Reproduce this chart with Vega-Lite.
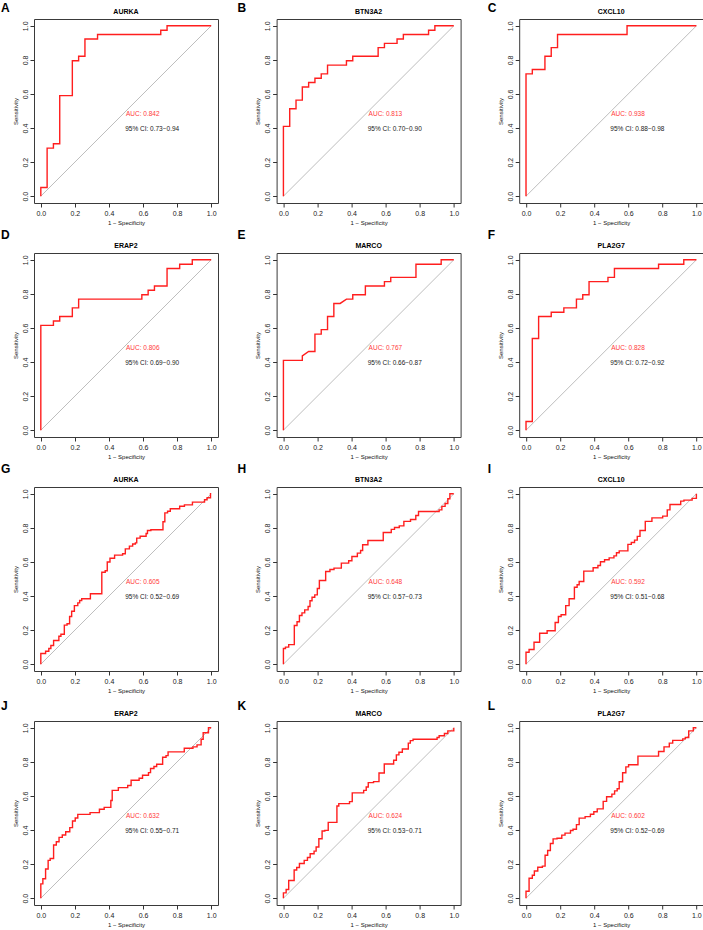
{
"$schema": "https://vega.github.io/schema/vega-lite/v6.json",
"padding": {"top": 1, "left": 0, "right": 0, "bottom": 0},
"background": "white",
"data": {"values": [
{"p":"A","x":0,"y":0},{"p":"A","x":0,"y":0.051},{"p":"A","x":0.037,"y":0.051},{"p":"A","x":0.037,"y":0.282},{"p":"A","x":0.074,"y":0.282},{"p":"A","x":0.074,"y":0.308},{"p":"A","x":0.111,"y":0.308},{"p":"A","x":0.111,"y":0.59},{"p":"A","x":0.185,"y":0.59},{"p":"A","x":0.185,"y":0.795},{"p":"A","x":0.222,"y":0.795},{"p":"A","x":0.222,"y":0.821},{"p":"A","x":0.259,"y":0.821},{"p":"A","x":0.259,"y":0.923},{"p":"A","x":0.333,"y":0.923},{"p":"A","x":0.333,"y":0.949},{"p":"A","x":0.704,"y":0.949},{"p":"A","x":0.704,"y":0.974},{"p":"A","x":0.741,"y":0.974},{"p":"A","x":0.741,"y":1},{"p":"A","x":1,"y":1},
{"p":"B","x":0,"y":0},{"p":"B","x":0,"y":0.41},{"p":"B","x":0.037,"y":0.41},{"p":"B","x":0.037,"y":0.513},{"p":"B","x":0.074,"y":0.513},{"p":"B","x":0.074,"y":0.564},{"p":"B","x":0.111,"y":0.564},{"p":"B","x":0.111,"y":0.641},{"p":"B","x":0.148,"y":0.641},{"p":"B","x":0.148,"y":0.667},{"p":"B","x":0.185,"y":0.667},{"p":"B","x":0.185,"y":0.692},{"p":"B","x":0.222,"y":0.692},{"p":"B","x":0.222,"y":0.718},{"p":"B","x":0.259,"y":0.718},{"p":"B","x":0.259,"y":0.769},{"p":"B","x":0.37,"y":0.769},{"p":"B","x":0.37,"y":0.795},{"p":"B","x":0.407,"y":0.795},{"p":"B","x":0.407,"y":0.821},{"p":"B","x":0.556,"y":0.821},{"p":"B","x":0.556,"y":0.872},{"p":"B","x":0.593,"y":0.872},{"p":"B","x":0.593,"y":0.897},{"p":"B","x":0.667,"y":0.897},{"p":"B","x":0.667,"y":0.923},{"p":"B","x":0.704,"y":0.923},{"p":"B","x":0.704,"y":0.949},{"p":"B","x":0.852,"y":0.949},{"p":"B","x":0.852,"y":0.974},{"p":"B","x":0.889,"y":0.974},{"p":"B","x":0.889,"y":1},{"p":"B","x":1,"y":1},
{"p":"C","x":0,"y":0},{"p":"C","x":0,"y":0.718},{"p":"C","x":0.037,"y":0.718},{"p":"C","x":0.037,"y":0.744},{"p":"C","x":0.111,"y":0.744},{"p":"C","x":0.111,"y":0.821},{"p":"C","x":0.148,"y":0.821},{"p":"C","x":0.148,"y":0.872},{"p":"C","x":0.185,"y":0.872},{"p":"C","x":0.185,"y":0.949},{"p":"C","x":0.593,"y":0.949},{"p":"C","x":0.593,"y":1},{"p":"C","x":1,"y":1},
{"p":"D","x":0,"y":0},{"p":"D","x":0,"y":0.615},{"p":"D","x":0.074,"y":0.615},{"p":"D","x":0.074,"y":0.641},{"p":"D","x":0.111,"y":0.641},{"p":"D","x":0.111,"y":0.667},{"p":"D","x":0.185,"y":0.667},{"p":"D","x":0.185,"y":0.718},{"p":"D","x":0.222,"y":0.718},{"p":"D","x":0.222,"y":0.769},{"p":"D","x":0.593,"y":0.769},{"p":"D","x":0.593,"y":0.795},{"p":"D","x":0.63,"y":0.795},{"p":"D","x":0.63,"y":0.821},{"p":"D","x":0.667,"y":0.821},{"p":"D","x":0.667,"y":0.846},{"p":"D","x":0.741,"y":0.846},{"p":"D","x":0.741,"y":0.949},{"p":"D","x":0.815,"y":0.949},{"p":"D","x":0.815,"y":0.974},{"p":"D","x":0.889,"y":0.974},{"p":"D","x":0.889,"y":1},{"p":"D","x":1,"y":1},
{"p":"E","x":0,"y":0},{"p":"E","x":0,"y":0.41},{"p":"E","x":0.111,"y":0.41},{"p":"E","x":0.111,"y":0.436},{"p":"E","x":0.148,"y":0.462},{"p":"E","x":0.185,"y":0.462},{"p":"E","x":0.185,"y":0.564},{"p":"E","x":0.222,"y":0.564},{"p":"E","x":0.222,"y":0.59},{"p":"E","x":0.259,"y":0.59},{"p":"E","x":0.259,"y":0.667},{"p":"E","x":0.296,"y":0.667},{"p":"E","x":0.296,"y":0.744},{"p":"E","x":0.333,"y":0.744},{"p":"E","x":0.37,"y":0.769},{"p":"E","x":0.407,"y":0.769},{"p":"E","x":0.407,"y":0.795},{"p":"E","x":0.481,"y":0.795},{"p":"E","x":0.481,"y":0.846},{"p":"E","x":0.593,"y":0.846},{"p":"E","x":0.593,"y":0.872},{"p":"E","x":0.63,"y":0.872},{"p":"E","x":0.63,"y":0.897},{"p":"E","x":0.778,"y":0.897},{"p":"E","x":0.778,"y":0.974},{"p":"E","x":0.926,"y":0.974},{"p":"E","x":0.926,"y":1},{"p":"E","x":1,"y":1},
{"p":"F","x":0,"y":0},{"p":"F","x":0,"y":0.051},{"p":"F","x":0.037,"y":0.051},{"p":"F","x":0.037,"y":0.538},{"p":"F","x":0.074,"y":0.538},{"p":"F","x":0.074,"y":0.667},{"p":"F","x":0.148,"y":0.667},{"p":"F","x":0.148,"y":0.692},{"p":"F","x":0.222,"y":0.692},{"p":"F","x":0.222,"y":0.718},{"p":"F","x":0.296,"y":0.718},{"p":"F","x":0.296,"y":0.769},{"p":"F","x":0.333,"y":0.769},{"p":"F","x":0.333,"y":0.795},{"p":"F","x":0.37,"y":0.795},{"p":"F","x":0.37,"y":0.872},{"p":"F","x":0.481,"y":0.872},{"p":"F","x":0.481,"y":0.897},{"p":"F","x":0.519,"y":0.897},{"p":"F","x":0.519,"y":0.949},{"p":"F","x":0.778,"y":0.949},{"p":"F","x":0.778,"y":0.974},{"p":"F","x":0.926,"y":0.974},{"p":"F","x":0.926,"y":1},{"p":"F","x":1,"y":1},
{"p":"G","x":0,"y":0},{"p":"G","x":0,"y":0.063},{"p":"G","x":0.028,"y":0.063},{"p":"G","x":0.028,"y":0.076},{"p":"G","x":0.047,"y":0.076},{"p":"G","x":0.047,"y":0.092},{"p":"G","x":0.059,"y":0.092},{"p":"G","x":0.059,"y":0.11},{"p":"G","x":0.075,"y":0.11},{"p":"G","x":0.075,"y":0.139},{"p":"G","x":0.106,"y":0.139},{"p":"G","x":0.106,"y":0.164},{"p":"G","x":0.118,"y":0.164},{"p":"G","x":0.118,"y":0.176},{"p":"G","x":0.138,"y":0.176},{"p":"G","x":0.138,"y":0.229},{"p":"G","x":0.154,"y":0.229},{"p":"G","x":0.154,"y":0.237},{"p":"G","x":0.169,"y":0.237},{"p":"G","x":0.169,"y":0.28},{"p":"G","x":0.181,"y":0.28},{"p":"G","x":0.181,"y":0.311},{"p":"G","x":0.197,"y":0.311},{"p":"G","x":0.197,"y":0.344},{"p":"G","x":0.217,"y":0.344},{"p":"G","x":0.217,"y":0.36},{"p":"G","x":0.228,"y":0.36},{"p":"G","x":0.228,"y":0.374},{"p":"G","x":0.24,"y":0.374},{"p":"G","x":0.24,"y":0.384},{"p":"G","x":0.291,"y":0.384},{"p":"G","x":0.291,"y":0.413},{"p":"G","x":0.358,"y":0.413},{"p":"G","x":0.358,"y":0.54},{"p":"G","x":0.378,"y":0.54},{"p":"G","x":0.378,"y":0.548},{"p":"G","x":0.39,"y":0.548},{"p":"G","x":0.39,"y":0.6},{"p":"G","x":0.406,"y":0.6},{"p":"G","x":0.406,"y":0.622},{"p":"G","x":0.433,"y":0.622},{"p":"G","x":0.433,"y":0.64},{"p":"G","x":0.48,"y":0.64},{"p":"G","x":0.48,"y":0.648},{"p":"G","x":0.496,"y":0.648},{"p":"G","x":0.496,"y":0.677},{"p":"G","x":0.52,"y":0.677},{"p":"G","x":0.52,"y":0.693},{"p":"G","x":0.539,"y":0.693},{"p":"G","x":0.539,"y":0.705},{"p":"G","x":0.555,"y":0.705},{"p":"G","x":0.555,"y":0.712},{"p":"G","x":0.563,"y":0.712},{"p":"G","x":0.563,"y":0.74},{"p":"G","x":0.583,"y":0.74},{"p":"G","x":0.583,"y":0.751},{"p":"G","x":0.618,"y":0.751},{"p":"G","x":0.618,"y":0.767},{"p":"G","x":0.626,"y":0.767},{"p":"G","x":0.626,"y":0.785},{"p":"G","x":0.646,"y":0.785},{"p":"G","x":0.646,"y":0.789},{"p":"G","x":0.717,"y":0.789},{"p":"G","x":0.717,"y":0.836},{"p":"G","x":0.728,"y":0.836},{"p":"G","x":0.728,"y":0.888},{"p":"G","x":0.744,"y":0.888},{"p":"G","x":0.744,"y":0.898},{"p":"G","x":0.76,"y":0.898},{"p":"G","x":0.76,"y":0.912},{"p":"G","x":0.815,"y":0.912},{"p":"G","x":0.815,"y":0.927},{"p":"G","x":0.843,"y":0.927},{"p":"G","x":0.843,"y":0.935},{"p":"G","x":0.89,"y":0.935},{"p":"G","x":0.89,"y":0.951},{"p":"G","x":0.961,"y":0.951},{"p":"G","x":0.961,"y":0.965},{"p":"G","x":0.976,"y":0.965},{"p":"G","x":0.976,"y":0.977},{"p":"G","x":0.996,"y":0.977},{"p":"G","x":0.996,"y":1},{"p":"G","x":1,"y":1},
{"p":"H","x":0,"y":0},{"p":"H","x":0,"y":0.092},{"p":"H","x":0.012,"y":0.092},{"p":"H","x":0.012,"y":0.1},{"p":"H","x":0.031,"y":0.1},{"p":"H","x":0.031,"y":0.115},{"p":"H","x":0.064,"y":0.115},{"p":"H","x":0.064,"y":0.227},{"p":"H","x":0.08,"y":0.227},{"p":"H","x":0.08,"y":0.249},{"p":"H","x":0.094,"y":0.249},{"p":"H","x":0.094,"y":0.286},{"p":"H","x":0.109,"y":0.286},{"p":"H","x":0.109,"y":0.301},{"p":"H","x":0.125,"y":0.301},{"p":"H","x":0.125,"y":0.319},{"p":"H","x":0.145,"y":0.319},{"p":"H","x":0.145,"y":0.339},{"p":"H","x":0.156,"y":0.339},{"p":"H","x":0.156,"y":0.372},{"p":"H","x":0.168,"y":0.372},{"p":"H","x":0.168,"y":0.393},{"p":"H","x":0.184,"y":0.393},{"p":"H","x":0.184,"y":0.407},{"p":"H","x":0.199,"y":0.407},{"p":"H","x":0.199,"y":0.444},{"p":"H","x":0.211,"y":0.444},{"p":"H","x":0.211,"y":0.491},{"p":"H","x":0.248,"y":0.491},{"p":"H","x":0.248,"y":0.544},{"p":"H","x":0.273,"y":0.544},{"p":"H","x":0.273,"y":0.556},{"p":"H","x":0.297,"y":0.556},{"p":"H","x":0.297,"y":0.564},{"p":"H","x":0.34,"y":0.564},{"p":"H","x":0.34,"y":0.593},{"p":"H","x":0.383,"y":0.593},{"p":"H","x":0.383,"y":0.607},{"p":"H","x":0.402,"y":0.607},{"p":"H","x":0.402,"y":0.632},{"p":"H","x":0.434,"y":0.632},{"p":"H","x":0.434,"y":0.652},{"p":"H","x":0.453,"y":0.652},{"p":"H","x":0.453,"y":0.667},{"p":"H","x":0.465,"y":0.667},{"p":"H","x":0.465,"y":0.701},{"p":"H","x":0.496,"y":0.701},{"p":"H","x":0.496,"y":0.726},{"p":"H","x":0.586,"y":0.726},{"p":"H","x":0.586,"y":0.773},{"p":"H","x":0.633,"y":0.773},{"p":"H","x":0.633,"y":0.791},{"p":"H","x":0.652,"y":0.791},{"p":"H","x":0.652,"y":0.802},{"p":"H","x":0.68,"y":0.802},{"p":"H","x":0.68,"y":0.812},{"p":"H","x":0.707,"y":0.812},{"p":"H","x":0.707,"y":0.838},{"p":"H","x":0.746,"y":0.838},{"p":"H","x":0.746,"y":0.849},{"p":"H","x":0.777,"y":0.849},{"p":"H","x":0.777,"y":0.873},{"p":"H","x":0.793,"y":0.873},{"p":"H","x":0.793,"y":0.896},{"p":"H","x":0.914,"y":0.896},{"p":"H","x":0.914,"y":0.906},{"p":"H","x":0.93,"y":0.906},{"p":"H","x":0.93,"y":0.926},{"p":"H","x":0.949,"y":0.926},{"p":"H","x":0.949,"y":0.943},{"p":"H","x":0.965,"y":0.943},{"p":"H","x":0.965,"y":0.971},{"p":"H","x":0.977,"y":0.971},{"p":"H","x":0.977,"y":1},{"p":"H","x":1,"y":1},
{"p":"I","x":0,"y":0},{"p":"I","x":0,"y":0.07},{"p":"I","x":0.018,"y":0.07},{"p":"I","x":0.018,"y":0.086},{"p":"I","x":0.047,"y":0.086},{"p":"I","x":0.047,"y":0.129},{"p":"I","x":0.08,"y":0.129},{"p":"I","x":0.08,"y":0.182},{"p":"I","x":0.124,"y":0.182},{"p":"I","x":0.124,"y":0.196},{"p":"I","x":0.171,"y":0.196},{"p":"I","x":0.171,"y":0.245},{"p":"I","x":0.19,"y":0.245},{"p":"I","x":0.19,"y":0.28},{"p":"I","x":0.206,"y":0.28},{"p":"I","x":0.206,"y":0.29},{"p":"I","x":0.233,"y":0.29},{"p":"I","x":0.233,"y":0.344},{"p":"I","x":0.253,"y":0.344},{"p":"I","x":0.253,"y":0.384},{"p":"I","x":0.284,"y":0.384},{"p":"I","x":0.284,"y":0.452},{"p":"I","x":0.3,"y":0.452},{"p":"I","x":0.3,"y":0.466},{"p":"I","x":0.312,"y":0.466},{"p":"I","x":0.312,"y":0.485},{"p":"I","x":0.339,"y":0.485},{"p":"I","x":0.339,"y":0.546},{"p":"I","x":0.394,"y":0.546},{"p":"I","x":0.394,"y":0.566},{"p":"I","x":0.422,"y":0.566},{"p":"I","x":0.422,"y":0.579},{"p":"I","x":0.437,"y":0.579},{"p":"I","x":0.437,"y":0.601},{"p":"I","x":0.461,"y":0.601},{"p":"I","x":0.461,"y":0.613},{"p":"I","x":0.488,"y":0.613},{"p":"I","x":0.488,"y":0.624},{"p":"I","x":0.516,"y":0.624},{"p":"I","x":0.516,"y":0.636},{"p":"I","x":0.531,"y":0.636},{"p":"I","x":0.531,"y":0.654},{"p":"I","x":0.547,"y":0.654},{"p":"I","x":0.547,"y":0.665},{"p":"I","x":0.598,"y":0.665},{"p":"I","x":0.598,"y":0.703},{"p":"I","x":0.618,"y":0.703},{"p":"I","x":0.618,"y":0.714},{"p":"I","x":0.637,"y":0.714},{"p":"I","x":0.637,"y":0.728},{"p":"I","x":0.653,"y":0.728},{"p":"I","x":0.653,"y":0.75},{"p":"I","x":0.669,"y":0.75},{"p":"I","x":0.669,"y":0.785},{"p":"I","x":0.7,"y":0.785},{"p":"I","x":0.7,"y":0.838},{"p":"I","x":0.739,"y":0.838},{"p":"I","x":0.739,"y":0.859},{"p":"I","x":0.802,"y":0.859},{"p":"I","x":0.802,"y":0.869},{"p":"I","x":0.829,"y":0.869},{"p":"I","x":0.829,"y":0.906},{"p":"I","x":0.845,"y":0.906},{"p":"I","x":0.845,"y":0.937},{"p":"I","x":0.908,"y":0.937},{"p":"I","x":0.908,"y":0.957},{"p":"I","x":0.927,"y":0.957},{"p":"I","x":0.927,"y":0.963},{"p":"I","x":0.975,"y":0.963},{"p":"I","x":0.975,"y":0.973},{"p":"I","x":1,"y":0.973},{"p":"I","x":1,"y":1},
{"p":"J","x":0,"y":0},{"p":"J","x":0,"y":0.084},{"p":"J","x":0.012,"y":0.084},{"p":"J","x":0.012,"y":0.114},{"p":"J","x":0.028,"y":0.114},{"p":"J","x":0.028,"y":0.171},{"p":"J","x":0.043,"y":0.171},{"p":"J","x":0.043,"y":0.222},{"p":"J","x":0.055,"y":0.222},{"p":"J","x":0.055,"y":0.233},{"p":"J","x":0.075,"y":0.233},{"p":"J","x":0.075,"y":0.312},{"p":"J","x":0.091,"y":0.312},{"p":"J","x":0.091,"y":0.331},{"p":"J","x":0.107,"y":0.331},{"p":"J","x":0.107,"y":0.357},{"p":"J","x":0.126,"y":0.357},{"p":"J","x":0.126,"y":0.371},{"p":"J","x":0.146,"y":0.371},{"p":"J","x":0.146,"y":0.39},{"p":"J","x":0.17,"y":0.39},{"p":"J","x":0.17,"y":0.414},{"p":"J","x":0.186,"y":0.414},{"p":"J","x":0.186,"y":0.453},{"p":"J","x":0.202,"y":0.453},{"p":"J","x":0.202,"y":0.471},{"p":"J","x":0.217,"y":0.471},{"p":"J","x":0.217,"y":0.492},{"p":"J","x":0.289,"y":0.492},{"p":"J","x":0.289,"y":0.502},{"p":"J","x":0.344,"y":0.502},{"p":"J","x":0.344,"y":0.522},{"p":"J","x":0.372,"y":0.522},{"p":"J","x":0.372,"y":0.533},{"p":"J","x":0.411,"y":0.533},{"p":"J","x":0.411,"y":0.573},{"p":"J","x":0.419,"y":0.573},{"p":"J","x":0.419,"y":0.633},{"p":"J","x":0.455,"y":0.633},{"p":"J","x":0.455,"y":0.649},{"p":"J","x":0.51,"y":0.649},{"p":"J","x":0.51,"y":0.661},{"p":"J","x":0.53,"y":0.661},{"p":"J","x":0.53,"y":0.692},{"p":"J","x":0.577,"y":0.692},{"p":"J","x":0.577,"y":0.704},{"p":"J","x":0.597,"y":0.704},{"p":"J","x":0.597,"y":0.722},{"p":"J","x":0.632,"y":0.722},{"p":"J","x":0.632,"y":0.737},{"p":"J","x":0.644,"y":0.737},{"p":"J","x":0.644,"y":0.761},{"p":"J","x":0.664,"y":0.761},{"p":"J","x":0.664,"y":0.773},{"p":"J","x":0.68,"y":0.773},{"p":"J","x":0.68,"y":0.786},{"p":"J","x":0.715,"y":0.786},{"p":"J","x":0.715,"y":0.827},{"p":"J","x":0.735,"y":0.827},{"p":"J","x":0.735,"y":0.837},{"p":"J","x":0.747,"y":0.837},{"p":"J","x":0.747,"y":0.859},{"p":"J","x":0.842,"y":0.859},{"p":"J","x":0.842,"y":0.88},{"p":"J","x":0.893,"y":0.88},{"p":"J","x":0.893,"y":0.888},{"p":"J","x":0.917,"y":0.888},{"p":"J","x":0.917,"y":0.9},{"p":"J","x":0.941,"y":0.9},{"p":"J","x":0.941,"y":0.933},{"p":"J","x":0.953,"y":0.933},{"p":"J","x":0.953,"y":0.971},{"p":"J","x":0.984,"y":0.971},{"p":"J","x":0.984,"y":1},{"p":"J","x":1,"y":1},
{"p":"K","x":0,"y":0},{"p":"K","x":0,"y":0.031},{"p":"K","x":0.016,"y":0.031},{"p":"K","x":0.016,"y":0.051},{"p":"K","x":0.031,"y":0.051},{"p":"K","x":0.031,"y":0.104},{"p":"K","x":0.063,"y":0.104},{"p":"K","x":0.063,"y":0.165},{"p":"K","x":0.078,"y":0.165},{"p":"K","x":0.078,"y":0.18},{"p":"K","x":0.094,"y":0.18},{"p":"K","x":0.094,"y":0.204},{"p":"K","x":0.122,"y":0.204},{"p":"K","x":0.122,"y":0.222},{"p":"K","x":0.141,"y":0.222},{"p":"K","x":0.141,"y":0.239},{"p":"K","x":0.157,"y":0.239},{"p":"K","x":0.157,"y":0.261},{"p":"K","x":0.18,"y":0.261},{"p":"K","x":0.18,"y":0.276},{"p":"K","x":0.192,"y":0.276},{"p":"K","x":0.192,"y":0.3},{"p":"K","x":0.208,"y":0.3},{"p":"K","x":0.208,"y":0.349},{"p":"K","x":0.227,"y":0.349},{"p":"K","x":0.227,"y":0.394},{"p":"K","x":0.243,"y":0.394},{"p":"K","x":0.243,"y":0.398},{"p":"K","x":0.263,"y":0.398},{"p":"K","x":0.263,"y":0.445},{"p":"K","x":0.314,"y":0.445},{"p":"K","x":0.314,"y":0.541},{"p":"K","x":0.325,"y":0.541},{"p":"K","x":0.325,"y":0.555},{"p":"K","x":0.388,"y":0.555},{"p":"K","x":0.388,"y":0.567},{"p":"K","x":0.404,"y":0.567},{"p":"K","x":0.404,"y":0.618},{"p":"K","x":0.471,"y":0.618},{"p":"K","x":0.471,"y":0.633},{"p":"K","x":0.486,"y":0.633},{"p":"K","x":0.486,"y":0.653},{"p":"K","x":0.498,"y":0.653},{"p":"K","x":0.498,"y":0.678},{"p":"K","x":0.529,"y":0.678},{"p":"K","x":0.529,"y":0.684},{"p":"K","x":0.561,"y":0.684},{"p":"K","x":0.561,"y":0.735},{"p":"K","x":0.592,"y":0.735},{"p":"K","x":0.592,"y":0.788},{"p":"K","x":0.647,"y":0.788},{"p":"K","x":0.647,"y":0.81},{"p":"K","x":0.663,"y":0.81},{"p":"K","x":0.663,"y":0.841},{"p":"K","x":0.678,"y":0.841},{"p":"K","x":0.678,"y":0.857},{"p":"K","x":0.698,"y":0.857},{"p":"K","x":0.698,"y":0.876},{"p":"K","x":0.733,"y":0.876},{"p":"K","x":0.733,"y":0.91},{"p":"K","x":0.745,"y":0.91},{"p":"K","x":0.745,"y":0.925},{"p":"K","x":0.761,"y":0.925},{"p":"K","x":0.761,"y":0.933},{"p":"K","x":0.902,"y":0.933},{"p":"K","x":0.902,"y":0.943},{"p":"K","x":0.914,"y":0.943},{"p":"K","x":0.914,"y":0.953},{"p":"K","x":0.945,"y":0.953},{"p":"K","x":0.945,"y":0.967},{"p":"K","x":0.965,"y":0.967},{"p":"K","x":0.965,"y":0.982},{"p":"K","x":1,"y":0.982},{"p":"K","x":1,"y":1},
{"p":"L","x":0,"y":0},{"p":"L","x":0,"y":0.041},{"p":"L","x":0.018,"y":0.041},{"p":"L","x":0.018,"y":0.117},{"p":"L","x":0.037,"y":0.117},{"p":"L","x":0.037,"y":0.135},{"p":"L","x":0.049,"y":0.135},{"p":"L","x":0.049,"y":0.16},{"p":"L","x":0.069,"y":0.16},{"p":"L","x":0.069,"y":0.182},{"p":"L","x":0.096,"y":0.182},{"p":"L","x":0.096,"y":0.188},{"p":"L","x":0.112,"y":0.188},{"p":"L","x":0.112,"y":0.252},{"p":"L","x":0.127,"y":0.252},{"p":"L","x":0.127,"y":0.28},{"p":"L","x":0.143,"y":0.28},{"p":"L","x":0.143,"y":0.321},{"p":"L","x":0.159,"y":0.321},{"p":"L","x":0.159,"y":0.348},{"p":"L","x":0.182,"y":0.348},{"p":"L","x":0.182,"y":0.352},{"p":"L","x":0.21,"y":0.352},{"p":"L","x":0.21,"y":0.37},{"p":"L","x":0.229,"y":0.37},{"p":"L","x":0.229,"y":0.382},{"p":"L","x":0.261,"y":0.382},{"p":"L","x":0.261,"y":0.397},{"p":"L","x":0.276,"y":0.397},{"p":"L","x":0.276,"y":0.405},{"p":"L","x":0.296,"y":0.405},{"p":"L","x":0.296,"y":0.432},{"p":"L","x":0.312,"y":0.432},{"p":"L","x":0.312,"y":0.47},{"p":"L","x":0.347,"y":0.47},{"p":"L","x":0.347,"y":0.479},{"p":"L","x":0.378,"y":0.479},{"p":"L","x":0.378,"y":0.493},{"p":"L","x":0.398,"y":0.493},{"p":"L","x":0.398,"y":0.507},{"p":"L","x":0.418,"y":0.507},{"p":"L","x":0.418,"y":0.524},{"p":"L","x":0.453,"y":0.524},{"p":"L","x":0.453,"y":0.568},{"p":"L","x":0.473,"y":0.568},{"p":"L","x":0.473,"y":0.595},{"p":"L","x":0.504,"y":0.595},{"p":"L","x":0.504,"y":0.611},{"p":"L","x":0.52,"y":0.611},{"p":"L","x":0.52,"y":0.63},{"p":"L","x":0.535,"y":0.63},{"p":"L","x":0.535,"y":0.642},{"p":"L","x":0.547,"y":0.642},{"p":"L","x":0.547,"y":0.683},{"p":"L","x":0.567,"y":0.683},{"p":"L","x":0.567,"y":0.736},{"p":"L","x":0.586,"y":0.736},{"p":"L","x":0.586,"y":0.771},{"p":"L","x":0.602,"y":0.771},{"p":"L","x":0.602,"y":0.783},{"p":"L","x":0.657,"y":0.783},{"p":"L","x":0.657,"y":0.834},{"p":"L","x":0.778,"y":0.834},{"p":"L","x":0.778,"y":0.861},{"p":"L","x":0.81,"y":0.861},{"p":"L","x":0.81,"y":0.888},{"p":"L","x":0.841,"y":0.888},{"p":"L","x":0.841,"y":0.91},{"p":"L","x":0.861,"y":0.91},{"p":"L","x":0.861,"y":0.926},{"p":"L","x":0.92,"y":0.926},{"p":"L","x":0.92,"y":0.935},{"p":"L","x":0.935,"y":0.935},{"p":"L","x":0.935,"y":0.943},{"p":"L","x":0.955,"y":0.943},{"p":"L","x":0.955,"y":0.982},{"p":"L","x":0.982,"y":0.982},{"p":"L","x":0.982,"y":1},{"p":"L","x":1,"y":1},
{"p":"A","gene":"AURKA","auc":"AUC: 0.842","ci":"95% CI: 0.73−0.94"},
{"p":"B","gene":"BTN3A2","auc":"AUC: 0.813","ci":"95% CI: 0.70−0.90"},
{"p":"C","gene":"CXCL10","auc":"AUC: 0.938","ci":"95% CI: 0.88−0.98"},
{"p":"D","gene":"ERAP2","auc":"AUC: 0.806","ci":"95% CI: 0.69−0.90"},
{"p":"E","gene":"MARCO","auc":"AUC: 0.767","ci":"95% CI: 0.66−0.87"},
{"p":"F","gene":"PLA2G7","auc":"AUC: 0.828","ci":"95% CI: 0.72−0.92"},
{"p":"G","gene":"AURKA","auc":"AUC: 0.605","ci":"95% CI: 0.52−0.69"},
{"p":"H","gene":"BTN3A2","auc":"AUC: 0.648","ci":"95% CI: 0.57−0.73"},
{"p":"I","gene":"CXCL10","auc":"AUC: 0.592","ci":"95% CI: 0.51−0.68"},
{"p":"J","gene":"ERAP2","auc":"AUC: 0.632","ci":"95% CI: 0.55−0.71"},
{"p":"K","gene":"MARCO","auc":"AUC: 0.624","ci":"95% CI: 0.53−0.71"},
{"p":"L","gene":"PLA2G7","auc":"AUC: 0.602","ci":"95% CI: 0.52−0.69"}
]},
"columns": 3,
"spacing": {"row": 50, "column": 58.6},
"bounds": "flush",
"concat": [
{"width":184,"height":184,"transform":[{"filter":"datum.p=='A'"}],"layer":[
{"transform":[{"filter":"isValid(datum.gene)"}],"mark":"rule","encoding":{"x":{"datum":0,"type":"quantitative"},"y":{"datum":0,"type":"quantitative"},"x2":{"datum":1},"y2":{"datum":1}}},
{"transform":[{"filter":"isValid(datum.x)"}],"mark":"line","encoding":{"x":{"field":"x","type":"quantitative","scale":{"domain":[-0.04,1.04],"nice":false,"zero":false},"axis":{"title":"1 − Specificity","values":[0,0.2,0.4,0.6,0.8,1],"tickCount":6,"format":".1f"}},"y":{"field":"y","type":"quantitative","scale":{"domain":[-0.04,1.04],"nice":false,"zero":false},"axis":{"title":"Sensitivity","values":[0,0.2,0.4,0.6,0.8,1],"tickCount":6,"format":".1f"}},"order":[{"field":"x","type":"quantitative"},{"field":"y","type":"quantitative"}]}},
{"transform":[{"filter":"isValid(datum.gene)"}],"mark":{"type":"text","style":"letter","color":"#000"},"encoding":{"x":{"datum":-0.233,"type":"quantitative"},"y":{"datum":1.08,"type":"quantitative"},"text":{"field":"p"}}},
{"transform":[{"filter":"isValid(datum.gene)"}],"mark":{"type":"text","style":"gene","color":"#000"},"encoding":{"x":{"datum":0.5,"type":"quantitative"},"y":{"datum":1.07,"type":"quantitative"},"text":{"field":"gene"}}},
{"transform":[{"filter":"isValid(datum.gene)"}],"mark":{"type":"text","style":"auc","color":"#FF3A3A"},"encoding":{"x":{"datum":0.5,"type":"quantitative"},"y":{"datum":0.485,"type":"quantitative"},"text":{"field":"auc"}}},
{"transform":[{"filter":"isValid(datum.gene)"}],"mark":{"type":"text","style":"ci","color":"#1A1A1A"},"encoding":{"x":{"datum":0.495,"type":"quantitative"},"y":{"datum":0.397,"type":"quantitative"},"text":{"field":"ci"}}}
]},
{"width":184,"height":184,"transform":[{"filter":"datum.p=='B'"}],"layer":[
{"transform":[{"filter":"isValid(datum.gene)"}],"mark":"rule","encoding":{"x":{"datum":0,"type":"quantitative"},"y":{"datum":0,"type":"quantitative"},"x2":{"datum":1},"y2":{"datum":1}}},
{"transform":[{"filter":"isValid(datum.x)"}],"mark":"line","encoding":{"x":{"field":"x","type":"quantitative","scale":{"domain":[-0.04,1.04],"nice":false,"zero":false},"axis":{"title":"1 − Specificity","values":[0,0.2,0.4,0.6,0.8,1],"tickCount":6,"format":".1f"}},"y":{"field":"y","type":"quantitative","scale":{"domain":[-0.04,1.04],"nice":false,"zero":false},"axis":{"title":"Sensitivity","values":[0,0.2,0.4,0.6,0.8,1],"tickCount":6,"format":".1f"}},"order":[{"field":"x","type":"quantitative"},{"field":"y","type":"quantitative"}]}},
{"transform":[{"filter":"isValid(datum.gene)"}],"mark":{"type":"text","style":"letter","color":"#000"},"encoding":{"x":{"datum":-0.27,"type":"quantitative"},"y":{"datum":1.08,"type":"quantitative"},"text":{"field":"p"}}},
{"transform":[{"filter":"isValid(datum.gene)"}],"mark":{"type":"text","style":"gene","color":"#000"},"encoding":{"x":{"datum":0.5,"type":"quantitative"},"y":{"datum":1.07,"type":"quantitative"},"text":{"field":"gene"}}},
{"transform":[{"filter":"isValid(datum.gene)"}],"mark":{"type":"text","style":"auc","color":"#FF3A3A"},"encoding":{"x":{"datum":0.5,"type":"quantitative"},"y":{"datum":0.485,"type":"quantitative"},"text":{"field":"auc"}}},
{"transform":[{"filter":"isValid(datum.gene)"}],"mark":{"type":"text","style":"ci","color":"#1A1A1A"},"encoding":{"x":{"datum":0.495,"type":"quantitative"},"y":{"datum":0.397,"type":"quantitative"},"text":{"field":"ci"}}}
]},
{"width":184,"height":184,"transform":[{"filter":"datum.p=='C'"}],"layer":[
{"transform":[{"filter":"isValid(datum.gene)"}],"mark":"rule","encoding":{"x":{"datum":0,"type":"quantitative"},"y":{"datum":0,"type":"quantitative"},"x2":{"datum":1},"y2":{"datum":1}}},
{"transform":[{"filter":"isValid(datum.x)"}],"mark":"line","encoding":{"x":{"field":"x","type":"quantitative","scale":{"domain":[-0.04,1.04],"nice":false,"zero":false},"axis":{"title":"1 − Specificity","values":[0,0.2,0.4,0.6,0.8,1],"tickCount":6,"format":".1f"}},"y":{"field":"y","type":"quantitative","scale":{"domain":[-0.04,1.04],"nice":false,"zero":false},"axis":{"title":"Sensitivity","values":[0,0.2,0.4,0.6,0.8,1],"tickCount":6,"format":".1f"}},"order":[{"field":"x","type":"quantitative"},{"field":"y","type":"quantitative"}]}},
{"transform":[{"filter":"isValid(datum.gene)"}],"mark":{"type":"text","style":"letter","color":"#000"},"encoding":{"x":{"datum":-0.225,"type":"quantitative"},"y":{"datum":1.08,"type":"quantitative"},"text":{"field":"p"}}},
{"transform":[{"filter":"isValid(datum.gene)"}],"mark":{"type":"text","style":"gene","color":"#000"},"encoding":{"x":{"datum":0.5,"type":"quantitative"},"y":{"datum":1.07,"type":"quantitative"},"text":{"field":"gene"}}},
{"transform":[{"filter":"isValid(datum.gene)"}],"mark":{"type":"text","style":"auc","color":"#FF3A3A"},"encoding":{"x":{"datum":0.5,"type":"quantitative"},"y":{"datum":0.485,"type":"quantitative"},"text":{"field":"auc"}}},
{"transform":[{"filter":"isValid(datum.gene)"}],"mark":{"type":"text","style":"ci","color":"#1A1A1A"},"encoding":{"x":{"datum":0.495,"type":"quantitative"},"y":{"datum":0.397,"type":"quantitative"},"text":{"field":"ci"}}}
]},
{"width":184,"height":184,"transform":[{"filter":"datum.p=='D'"}],"layer":[
{"transform":[{"filter":"isValid(datum.gene)"}],"mark":"rule","encoding":{"x":{"datum":0,"type":"quantitative"},"y":{"datum":0,"type":"quantitative"},"x2":{"datum":1},"y2":{"datum":1}}},
{"transform":[{"filter":"isValid(datum.x)"}],"mark":"line","encoding":{"x":{"field":"x","type":"quantitative","scale":{"domain":[-0.04,1.04],"nice":false,"zero":false},"axis":{"title":"1 − Specificity","values":[0,0.2,0.4,0.6,0.8,1],"tickCount":6,"format":".1f"}},"y":{"field":"y","type":"quantitative","scale":{"domain":[-0.04,1.04],"nice":false,"zero":false},"axis":{"title":"Sensitivity","values":[0,0.2,0.4,0.6,0.8,1],"tickCount":6,"format":".1f"}},"order":[{"field":"x","type":"quantitative"},{"field":"y","type":"quantitative"}]}},
{"transform":[{"filter":"isValid(datum.gene)"}],"mark":{"type":"text","style":"letter","color":"#000"},"encoding":{"x":{"datum":-0.233,"type":"quantitative"},"y":{"datum":1.125,"type":"quantitative"},"text":{"field":"p"}}},
{"transform":[{"filter":"isValid(datum.gene)"}],"mark":{"type":"text","style":"gene","color":"#000"},"encoding":{"x":{"datum":0.5,"type":"quantitative"},"y":{"datum":1.07,"type":"quantitative"},"text":{"field":"gene"}}},
{"transform":[{"filter":"isValid(datum.gene)"}],"mark":{"type":"text","style":"auc","color":"#FF3A3A"},"encoding":{"x":{"datum":0.5,"type":"quantitative"},"y":{"datum":0.485,"type":"quantitative"},"text":{"field":"auc"}}},
{"transform":[{"filter":"isValid(datum.gene)"}],"mark":{"type":"text","style":"ci","color":"#1A1A1A"},"encoding":{"x":{"datum":0.495,"type":"quantitative"},"y":{"datum":0.397,"type":"quantitative"},"text":{"field":"ci"}}}
]},
{"width":184,"height":184,"transform":[{"filter":"datum.p=='E'"}],"layer":[
{"transform":[{"filter":"isValid(datum.gene)"}],"mark":"rule","encoding":{"x":{"datum":0,"type":"quantitative"},"y":{"datum":0,"type":"quantitative"},"x2":{"datum":1},"y2":{"datum":1}}},
{"transform":[{"filter":"isValid(datum.x)"}],"mark":"line","encoding":{"x":{"field":"x","type":"quantitative","scale":{"domain":[-0.04,1.04],"nice":false,"zero":false},"axis":{"title":"1 − Specificity","values":[0,0.2,0.4,0.6,0.8,1],"tickCount":6,"format":".1f"}},"y":{"field":"y","type":"quantitative","scale":{"domain":[-0.04,1.04],"nice":false,"zero":false},"axis":{"title":"Sensitivity","values":[0,0.2,0.4,0.6,0.8,1],"tickCount":6,"format":".1f"}},"order":[{"field":"x","type":"quantitative"},{"field":"y","type":"quantitative"}]}},
{"transform":[{"filter":"isValid(datum.gene)"}],"mark":{"type":"text","style":"letter","color":"#000"},"encoding":{"x":{"datum":-0.27,"type":"quantitative"},"y":{"datum":1.125,"type":"quantitative"},"text":{"field":"p"}}},
{"transform":[{"filter":"isValid(datum.gene)"}],"mark":{"type":"text","style":"gene","color":"#000"},"encoding":{"x":{"datum":0.5,"type":"quantitative"},"y":{"datum":1.07,"type":"quantitative"},"text":{"field":"gene"}}},
{"transform":[{"filter":"isValid(datum.gene)"}],"mark":{"type":"text","style":"auc","color":"#FF3A3A"},"encoding":{"x":{"datum":0.5,"type":"quantitative"},"y":{"datum":0.485,"type":"quantitative"},"text":{"field":"auc"}}},
{"transform":[{"filter":"isValid(datum.gene)"}],"mark":{"type":"text","style":"ci","color":"#1A1A1A"},"encoding":{"x":{"datum":0.495,"type":"quantitative"},"y":{"datum":0.397,"type":"quantitative"},"text":{"field":"ci"}}}
]},
{"width":184,"height":184,"transform":[{"filter":"datum.p=='F'"}],"layer":[
{"transform":[{"filter":"isValid(datum.gene)"}],"mark":"rule","encoding":{"x":{"datum":0,"type":"quantitative"},"y":{"datum":0,"type":"quantitative"},"x2":{"datum":1},"y2":{"datum":1}}},
{"transform":[{"filter":"isValid(datum.x)"}],"mark":"line","encoding":{"x":{"field":"x","type":"quantitative","scale":{"domain":[-0.04,1.04],"nice":false,"zero":false},"axis":{"title":"1 − Specificity","values":[0,0.2,0.4,0.6,0.8,1],"tickCount":6,"format":".1f"}},"y":{"field":"y","type":"quantitative","scale":{"domain":[-0.04,1.04],"nice":false,"zero":false},"axis":{"title":"Sensitivity","values":[0,0.2,0.4,0.6,0.8,1],"tickCount":6,"format":".1f"}},"order":[{"field":"x","type":"quantitative"},{"field":"y","type":"quantitative"}]}},
{"transform":[{"filter":"isValid(datum.gene)"}],"mark":{"type":"text","style":"letter","color":"#000"},"encoding":{"x":{"datum":-0.225,"type":"quantitative"},"y":{"datum":1.125,"type":"quantitative"},"text":{"field":"p"}}},
{"transform":[{"filter":"isValid(datum.gene)"}],"mark":{"type":"text","style":"gene","color":"#000"},"encoding":{"x":{"datum":0.5,"type":"quantitative"},"y":{"datum":1.07,"type":"quantitative"},"text":{"field":"gene"}}},
{"transform":[{"filter":"isValid(datum.gene)"}],"mark":{"type":"text","style":"auc","color":"#FF3A3A"},"encoding":{"x":{"datum":0.5,"type":"quantitative"},"y":{"datum":0.485,"type":"quantitative"},"text":{"field":"auc"}}},
{"transform":[{"filter":"isValid(datum.gene)"}],"mark":{"type":"text","style":"ci","color":"#1A1A1A"},"encoding":{"x":{"datum":0.495,"type":"quantitative"},"y":{"datum":0.397,"type":"quantitative"},"text":{"field":"ci"}}}
]},
{"width":184,"height":184,"transform":[{"filter":"datum.p=='G'"}],"layer":[
{"transform":[{"filter":"isValid(datum.gene)"}],"mark":"rule","encoding":{"x":{"datum":0,"type":"quantitative"},"y":{"datum":0,"type":"quantitative"},"x2":{"datum":1},"y2":{"datum":1}}},
{"transform":[{"filter":"isValid(datum.x)"}],"mark":"line","encoding":{"x":{"field":"x","type":"quantitative","scale":{"domain":[-0.04,1.04],"nice":false,"zero":false},"axis":{"title":"1 − Specificity","values":[0,0.2,0.4,0.6,0.8,1],"tickCount":6,"format":".1f"}},"y":{"field":"y","type":"quantitative","scale":{"domain":[-0.04,1.04],"nice":false,"zero":false},"axis":{"title":"Sensitivity","values":[0,0.2,0.4,0.6,0.8,1],"tickCount":6,"format":".1f"}},"order":[{"field":"x","type":"quantitative"},{"field":"y","type":"quantitative"}]}},
{"transform":[{"filter":"isValid(datum.gene)"}],"mark":{"type":"text","style":"letter","color":"#000"},"encoding":{"x":{"datum":-0.233,"type":"quantitative"},"y":{"datum":1.12,"type":"quantitative"},"text":{"field":"p"}}},
{"transform":[{"filter":"isValid(datum.gene)"}],"mark":{"type":"text","style":"gene","color":"#000"},"encoding":{"x":{"datum":0.5,"type":"quantitative"},"y":{"datum":1.07,"type":"quantitative"},"text":{"field":"gene"}}},
{"transform":[{"filter":"isValid(datum.gene)"}],"mark":{"type":"text","style":"auc","color":"#FF3A3A"},"encoding":{"x":{"datum":0.5,"type":"quantitative"},"y":{"datum":0.485,"type":"quantitative"},"text":{"field":"auc"}}},
{"transform":[{"filter":"isValid(datum.gene)"}],"mark":{"type":"text","style":"ci","color":"#1A1A1A"},"encoding":{"x":{"datum":0.495,"type":"quantitative"},"y":{"datum":0.397,"type":"quantitative"},"text":{"field":"ci"}}}
]},
{"width":184,"height":184,"transform":[{"filter":"datum.p=='H'"}],"layer":[
{"transform":[{"filter":"isValid(datum.gene)"}],"mark":"rule","encoding":{"x":{"datum":0,"type":"quantitative"},"y":{"datum":0,"type":"quantitative"},"x2":{"datum":1},"y2":{"datum":1}}},
{"transform":[{"filter":"isValid(datum.x)"}],"mark":"line","encoding":{"x":{"field":"x","type":"quantitative","scale":{"domain":[-0.04,1.04],"nice":false,"zero":false},"axis":{"title":"1 − Specificity","values":[0,0.2,0.4,0.6,0.8,1],"tickCount":6,"format":".1f"}},"y":{"field":"y","type":"quantitative","scale":{"domain":[-0.04,1.04],"nice":false,"zero":false},"axis":{"title":"Sensitivity","values":[0,0.2,0.4,0.6,0.8,1],"tickCount":6,"format":".1f"}},"order":[{"field":"x","type":"quantitative"},{"field":"y","type":"quantitative"}]}},
{"transform":[{"filter":"isValid(datum.gene)"}],"mark":{"type":"text","style":"letter","color":"#000"},"encoding":{"x":{"datum":-0.27,"type":"quantitative"},"y":{"datum":1.12,"type":"quantitative"},"text":{"field":"p"}}},
{"transform":[{"filter":"isValid(datum.gene)"}],"mark":{"type":"text","style":"gene","color":"#000"},"encoding":{"x":{"datum":0.5,"type":"quantitative"},"y":{"datum":1.07,"type":"quantitative"},"text":{"field":"gene"}}},
{"transform":[{"filter":"isValid(datum.gene)"}],"mark":{"type":"text","style":"auc","color":"#FF3A3A"},"encoding":{"x":{"datum":0.5,"type":"quantitative"},"y":{"datum":0.485,"type":"quantitative"},"text":{"field":"auc"}}},
{"transform":[{"filter":"isValid(datum.gene)"}],"mark":{"type":"text","style":"ci","color":"#1A1A1A"},"encoding":{"x":{"datum":0.495,"type":"quantitative"},"y":{"datum":0.397,"type":"quantitative"},"text":{"field":"ci"}}}
]},
{"width":184,"height":184,"transform":[{"filter":"datum.p=='I'"}],"layer":[
{"transform":[{"filter":"isValid(datum.gene)"}],"mark":"rule","encoding":{"x":{"datum":0,"type":"quantitative"},"y":{"datum":0,"type":"quantitative"},"x2":{"datum":1},"y2":{"datum":1}}},
{"transform":[{"filter":"isValid(datum.x)"}],"mark":"line","encoding":{"x":{"field":"x","type":"quantitative","scale":{"domain":[-0.04,1.04],"nice":false,"zero":false},"axis":{"title":"1 − Specificity","values":[0,0.2,0.4,0.6,0.8,1],"tickCount":6,"format":".1f"}},"y":{"field":"y","type":"quantitative","scale":{"domain":[-0.04,1.04],"nice":false,"zero":false},"axis":{"title":"Sensitivity","values":[0,0.2,0.4,0.6,0.8,1],"tickCount":6,"format":".1f"}},"order":[{"field":"x","type":"quantitative"},{"field":"y","type":"quantitative"}]}},
{"transform":[{"filter":"isValid(datum.gene)"}],"mark":{"type":"text","style":"letter","color":"#000"},"encoding":{"x":{"datum":-0.225,"type":"quantitative"},"y":{"datum":1.12,"type":"quantitative"},"text":{"field":"p"}}},
{"transform":[{"filter":"isValid(datum.gene)"}],"mark":{"type":"text","style":"gene","color":"#000"},"encoding":{"x":{"datum":0.5,"type":"quantitative"},"y":{"datum":1.07,"type":"quantitative"},"text":{"field":"gene"}}},
{"transform":[{"filter":"isValid(datum.gene)"}],"mark":{"type":"text","style":"auc","color":"#FF3A3A"},"encoding":{"x":{"datum":0.5,"type":"quantitative"},"y":{"datum":0.485,"type":"quantitative"},"text":{"field":"auc"}}},
{"transform":[{"filter":"isValid(datum.gene)"}],"mark":{"type":"text","style":"ci","color":"#1A1A1A"},"encoding":{"x":{"datum":0.495,"type":"quantitative"},"y":{"datum":0.397,"type":"quantitative"},"text":{"field":"ci"}}}
]},
{"width":184,"height":184,"transform":[{"filter":"datum.p=='J'"}],"layer":[
{"transform":[{"filter":"isValid(datum.gene)"}],"mark":"rule","encoding":{"x":{"datum":0,"type":"quantitative"},"y":{"datum":0,"type":"quantitative"},"x2":{"datum":1},"y2":{"datum":1}}},
{"transform":[{"filter":"isValid(datum.x)"}],"mark":"line","encoding":{"x":{"field":"x","type":"quantitative","scale":{"domain":[-0.04,1.04],"nice":false,"zero":false},"axis":{"title":"1 − Specificity","values":[0,0.2,0.4,0.6,0.8,1],"tickCount":6,"format":".1f"}},"y":{"field":"y","type":"quantitative","scale":{"domain":[-0.04,1.04],"nice":false,"zero":false},"axis":{"title":"Sensitivity","values":[0,0.2,0.4,0.6,0.8,1],"tickCount":6,"format":".1f"}},"order":[{"field":"x","type":"quantitative"},{"field":"y","type":"quantitative"}]}},
{"transform":[{"filter":"isValid(datum.gene)"}],"mark":{"type":"text","style":"letter","color":"#000"},"encoding":{"x":{"datum":-0.233,"type":"quantitative"},"y":{"datum":1.105,"type":"quantitative"},"text":{"field":"p"}}},
{"transform":[{"filter":"isValid(datum.gene)"}],"mark":{"type":"text","style":"gene","color":"#000"},"encoding":{"x":{"datum":0.5,"type":"quantitative"},"y":{"datum":1.07,"type":"quantitative"},"text":{"field":"gene"}}},
{"transform":[{"filter":"isValid(datum.gene)"}],"mark":{"type":"text","style":"auc","color":"#FF3A3A"},"encoding":{"x":{"datum":0.5,"type":"quantitative"},"y":{"datum":0.485,"type":"quantitative"},"text":{"field":"auc"}}},
{"transform":[{"filter":"isValid(datum.gene)"}],"mark":{"type":"text","style":"ci","color":"#1A1A1A"},"encoding":{"x":{"datum":0.495,"type":"quantitative"},"y":{"datum":0.397,"type":"quantitative"},"text":{"field":"ci"}}}
]},
{"width":184,"height":184,"transform":[{"filter":"datum.p=='K'"}],"layer":[
{"transform":[{"filter":"isValid(datum.gene)"}],"mark":"rule","encoding":{"x":{"datum":0,"type":"quantitative"},"y":{"datum":0,"type":"quantitative"},"x2":{"datum":1},"y2":{"datum":1}}},
{"transform":[{"filter":"isValid(datum.x)"}],"mark":"line","encoding":{"x":{"field":"x","type":"quantitative","scale":{"domain":[-0.04,1.04],"nice":false,"zero":false},"axis":{"title":"1 − Specificity","values":[0,0.2,0.4,0.6,0.8,1],"tickCount":6,"format":".1f"}},"y":{"field":"y","type":"quantitative","scale":{"domain":[-0.04,1.04],"nice":false,"zero":false},"axis":{"title":"Sensitivity","values":[0,0.2,0.4,0.6,0.8,1],"tickCount":6,"format":".1f"}},"order":[{"field":"x","type":"quantitative"},{"field":"y","type":"quantitative"}]}},
{"transform":[{"filter":"isValid(datum.gene)"}],"mark":{"type":"text","style":"letter","color":"#000"},"encoding":{"x":{"datum":-0.27,"type":"quantitative"},"y":{"datum":1.105,"type":"quantitative"},"text":{"field":"p"}}},
{"transform":[{"filter":"isValid(datum.gene)"}],"mark":{"type":"text","style":"gene","color":"#000"},"encoding":{"x":{"datum":0.5,"type":"quantitative"},"y":{"datum":1.07,"type":"quantitative"},"text":{"field":"gene"}}},
{"transform":[{"filter":"isValid(datum.gene)"}],"mark":{"type":"text","style":"auc","color":"#FF3A3A"},"encoding":{"x":{"datum":0.5,"type":"quantitative"},"y":{"datum":0.485,"type":"quantitative"},"text":{"field":"auc"}}},
{"transform":[{"filter":"isValid(datum.gene)"}],"mark":{"type":"text","style":"ci","color":"#1A1A1A"},"encoding":{"x":{"datum":0.495,"type":"quantitative"},"y":{"datum":0.397,"type":"quantitative"},"text":{"field":"ci"}}}
]},
{"width":184,"height":184,"transform":[{"filter":"datum.p=='L'"}],"layer":[
{"transform":[{"filter":"isValid(datum.gene)"}],"mark":"rule","encoding":{"x":{"datum":0,"type":"quantitative"},"y":{"datum":0,"type":"quantitative"},"x2":{"datum":1},"y2":{"datum":1}}},
{"transform":[{"filter":"isValid(datum.x)"}],"mark":"line","encoding":{"x":{"field":"x","type":"quantitative","scale":{"domain":[-0.04,1.04],"nice":false,"zero":false},"axis":{"title":"1 − Specificity","values":[0,0.2,0.4,0.6,0.8,1],"tickCount":6,"format":".1f"}},"y":{"field":"y","type":"quantitative","scale":{"domain":[-0.04,1.04],"nice":false,"zero":false},"axis":{"title":"Sensitivity","values":[0,0.2,0.4,0.6,0.8,1],"tickCount":6,"format":".1f"}},"order":[{"field":"x","type":"quantitative"},{"field":"y","type":"quantitative"}]}},
{"transform":[{"filter":"isValid(datum.gene)"}],"mark":{"type":"text","style":"letter","color":"#000"},"encoding":{"x":{"datum":-0.225,"type":"quantitative"},"y":{"datum":1.105,"type":"quantitative"},"text":{"field":"p"}}},
{"transform":[{"filter":"isValid(datum.gene)"}],"mark":{"type":"text","style":"gene","color":"#000"},"encoding":{"x":{"datum":0.5,"type":"quantitative"},"y":{"datum":1.07,"type":"quantitative"},"text":{"field":"gene"}}},
{"transform":[{"filter":"isValid(datum.gene)"}],"mark":{"type":"text","style":"auc","color":"#FF3A3A"},"encoding":{"x":{"datum":0.5,"type":"quantitative"},"y":{"datum":0.485,"type":"quantitative"},"text":{"field":"auc"}}},
{"transform":[{"filter":"isValid(datum.gene)"}],"mark":{"type":"text","style":"ci","color":"#1A1A1A"},"encoding":{"x":{"datum":0.495,"type":"quantitative"},"y":{"datum":0.397,"type":"quantitative"},"text":{"field":"ci"}}}
]}
],
"config": {
"font": "Liberation Sans",
"view": {"stroke": "#3A3A3A", "strokeWidth": 1},
"rule": {"color": "#BEBEBE", "strokeWidth": 1},
"line": {"color": "#FF1E1E", "strokeWidth": 1.4},
"axis": {"grid": false, "domain": false, "tickSize": 4, "tickColor": "#333", "labelFontSize": 7, "labelColor": "#222", "labelPadding": 2, "labelFlush": false, "labelOverlap": false, "titleFontSize": 6, "titleFontWeight": "normal", "titleColor": "#111", "titlePadding": 3},
"axisY": {"labelAngle": -90, "labelAlign": "center", "labelBaseline": "bottom"},
"style": {
"letter": {"fontSize": 12, "fontWeight": "bold", "align": "left", "baseline": "alphabetic"},
"gene": {"fontSize": 7, "fontWeight": "bold", "align": "center", "baseline": "alphabetic"},
"auc": {"fontSize": 6.5, "align": "left", "baseline": "middle"},
"ci": {"fontSize": 6.5, "align": "left", "baseline": "middle"}
}
}
}
